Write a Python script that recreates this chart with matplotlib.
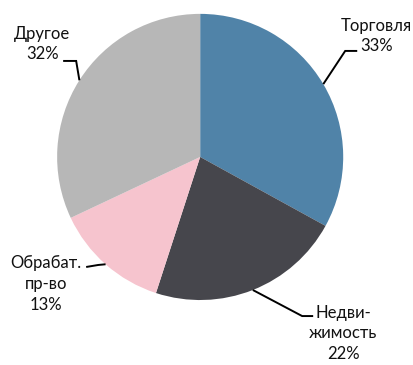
import numpy as np
import matplotlib
matplotlib.use('Agg')
import matplotlib.pyplot as plt

# данные
labels = ['Торговля', 'Недви-\nжимость', 'Обрабат.\nпр-во', 'Другое']
shares = [33, 22, 13, 32]
colors = ['#5083a8', '#46464c', '#f6c4ce', '#b7b7b7']

# раскладка подписей: (текст, излом, конец выноски) в единицах радиуса
text_pos = [(1.231, 0.846), (1.0, -1.231), (-1.077, -0.888), (-1.105, 0.790)]
elbow_pos = [(1.014, 0.741), (0.713, -1.112), (-0.713, -0.755), (-0.867, 0.671)]
end_pos = [(1.098, 0.741), (0.790, -1.112), (-0.797, -0.769), (-0.958, 0.671)]

plt.rcParams['font.family'] = ['Lato', 'DejaVu Sans']

fig = plt.figure(figsize=(4.14, 3.65), dpi=100)
ax = fig.add_axes([0.138, 0.178, 0.691, 0.784])

wedges, _ = ax.pie(shares, colors=colors, startangle=90, counterclock=False,
                   wedgeprops=dict(linewidth=0))

for i, w in enumerate(wedges):
    mid = np.deg2rad((w.theta1 + w.theta2) / 2)
    ax_x, ax_y = np.cos(mid), np.sin(mid)
    ex, ey = elbow_pos[i]
    tx, ty = end_pos[i]
    ax.plot([ax_x, ex, tx], [ax_y, ey, ty], color='black', lw=1.4, clip_on=False,
            solid_capstyle='butt', solid_joinstyle='miter')
    ax.text(text_pos[i][0], text_pos[i][1], f"{labels[i]}\n{shares[i]}%",
            ha='center', va='center', multialignment='center', fontsize=12,
            linespacing=1.35, color='#111111', clip_on=False)

ax.set_xlim(-1, 1)
ax.set_ylim(-1, 1)
ax.set_aspect('auto')
ax.axis('off')

plt.savefig('out.png', dpi=100)
plt.close()
